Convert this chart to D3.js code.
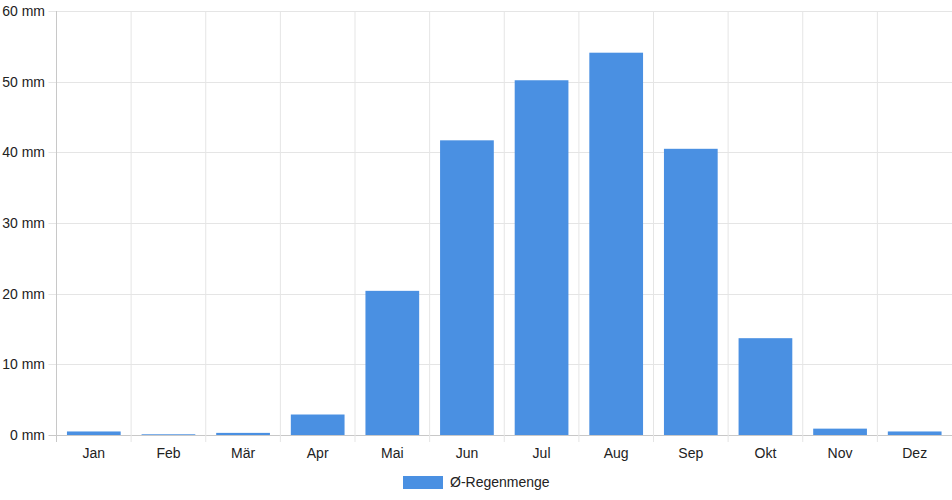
<!DOCTYPE html>
<html><head><meta charset="utf-8">
<script src="https://cdn.jsdelivr.net/npm/d3@7"></script>
<style>body{margin:0;background:#fff}svg{display:block;font-family:"Liberation Sans",Arial,sans-serif}</style>
</head><body><svg id="c" width="952" height="500"></svg>
<script>
const months = ["Jan","Feb","Mär","Apr","Mai","Jun","Jul","Aug","Sep","Okt","Nov","Dez"];
const rain = [0.5,0.1,0.3,2.9,20.4,41.7,50.2,54.1,40.5,13.7,0.9,0.5];
const yTicks = [0,10,20,30,40,50,60];
const seriesName = "Ø-Regenmenge";
const color = "#4a90e2";

const svg = d3.select("#c");
const L = 56.5, R = 952, T = 11, B = 435;
const x = d3.scaleBand().domain(months).range([L, R]).paddingInner(0).paddingOuter(0);
const y = d3.scaleLinear().domain([0, 60]).range([B, T]);
const bw = x.bandwidth() * 0.72;

// horizontal grid
svg.append("g").selectAll("line").data(yTicks).join("line")
  .attr("x1", L - 8).attr("x2", R).attr("y1", d => Math.round(y(d)) + 0.5).attr("y2", d => Math.round(y(d)) + 0.5)
  .attr("stroke", d => d === 0 ? "#c8c8c8" : "#e5e5e5").attr("stroke-width", 1);
// vertical grid
svg.append("g").selectAll("line").data(months).join("line")
  .attr("x1", d => x(d)).attr("x2", d => x(d)).attr("y1", T).attr("y2", B + 7)
  .attr("stroke", (d, i) => i === 0 ? "#c8c8c8" : "#e5e5e5").attr("stroke-width", 1);

// bars
svg.append("g").selectAll("rect").data(rain).join("rect")
  .attr("x", (d, i) => x(months[i]) + (x.bandwidth() - bw) / 2)
  .attr("width", bw)
  .attr("y", d => y(d))
  .attr("height", d => B - y(d))
  .attr("fill", color);

// y labels
svg.append("g").selectAll("text").data(yTicks).join("text")
  .attr("x", 45).attr("y", d => y(d)).attr("dy", "0.35em")
  .attr("text-anchor", "end").attr("font-size", 14).attr("fill", "#222")
  .text(d => d + " mm");

// x labels
svg.append("g").selectAll("text").data(months).join("text")
  .attr("x", d => x(d) + x.bandwidth() / 2).attr("y", 458)
  .attr("text-anchor", "middle").attr("font-size", 14).attr("fill", "#222")
  .text(d => d);

// legend
svg.append("rect").attr("x", 403).attr("y", 476).attr("width", 40).attr("height", 13).attr("fill", color);
svg.append("text").attr("x", 450).attr("y", 487).attr("font-size", 14).attr("fill", "#222").text(seriesName);
</script></body></html>
